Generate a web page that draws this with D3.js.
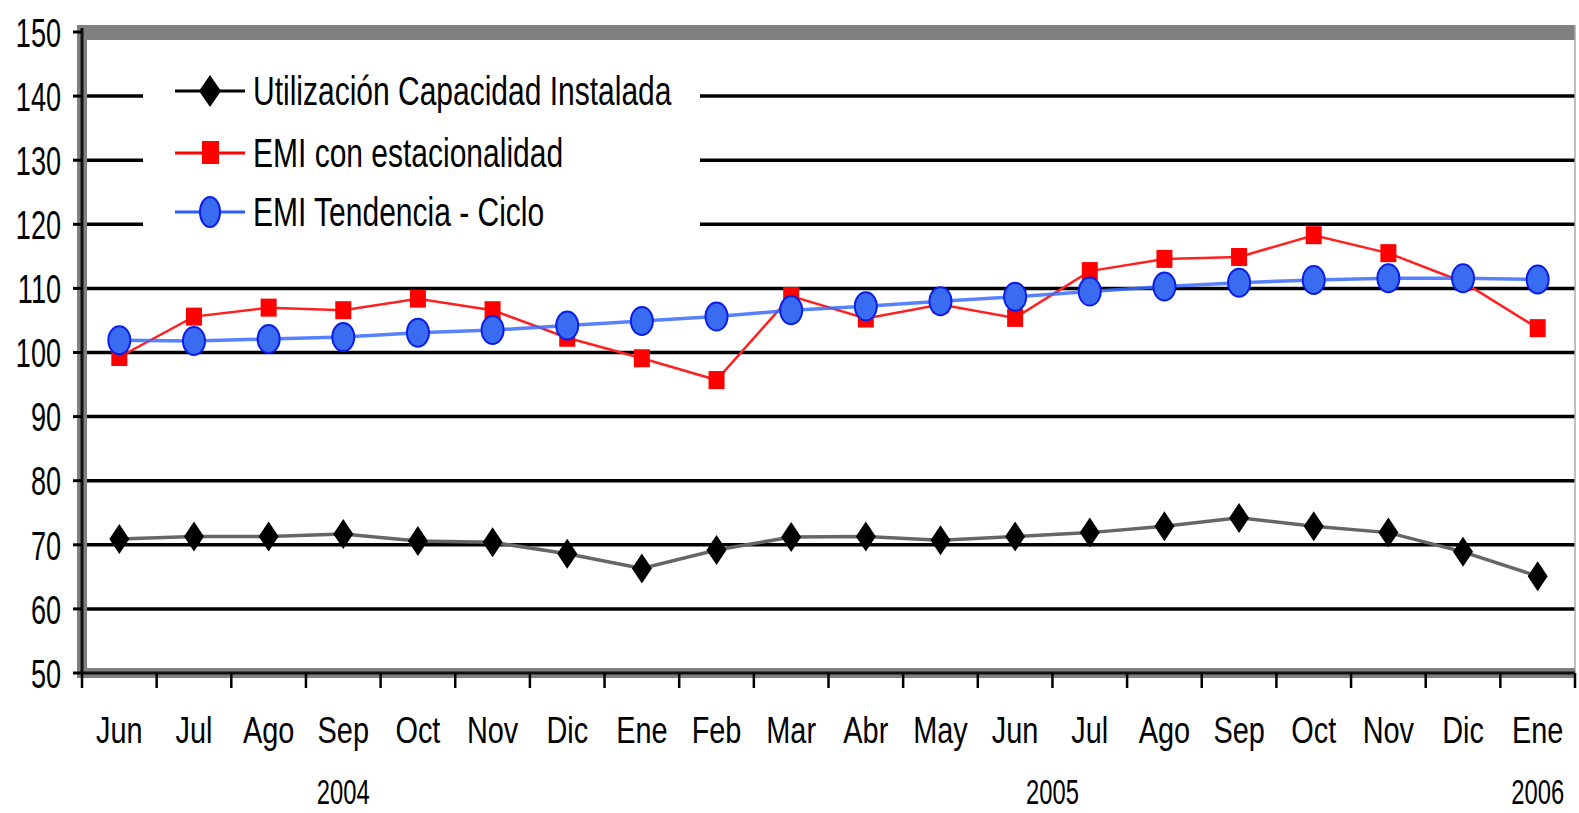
<!DOCTYPE html>
<html>
<head>
<meta charset="utf-8">
<script src="https://d3js.org/d3.v7.min.js"></script>
<style>
  body { margin: 0; background: #fff; }
  svg { display: block; }
</style>
</head>
<body>
<div class="chart"></div>
<script>
const months = ["Jun","Jul","Ago","Sep","Oct","Nov","Dic","Ene","Feb","Mar","Abr","May",
                "Jun","Jul","Ago","Sep","Oct","Nov","Dic","Ene"];
const yearLabels = ["2004", "2005", "2006"];
const yearFirst = [0, 7, 19];
const yearLast = [6, 18, 19];

const seriesNames = ["Utilización Capacidad Instalada", "EMI con estacionalidad", "EMI Tendencia - Ciclo"];
const utilizacion = [70.9, 71.3, 71.3, 71.7, 70.6, 70.4, 68.6, 66.3, 69.2, 71.2,
                     71.3, 70.7, 71.3, 71.9, 72.9, 74.2, 72.9, 71.9, 68.9, 65.1];
const emiEstacional = [99.3, 105.6, 107.0, 106.6, 108.4, 106.6, 102.3, 99.1, 95.7, 108.8,
                       105.3, 107.5, 105.4, 112.7, 114.6, 114.9, 118.3, 115.5, 111.0, 103.8];
const emiTendencia = [101.9, 101.8, 102.1, 102.4, 103.1, 103.5, 104.2, 104.9, 105.6, 106.6,
                      107.2, 108.0, 108.7, 109.5, 110.3, 110.9, 111.3, 111.6, 111.6, 111.4];
const yTickValues = [50, 60, 70, 80, 90, 100, 110, 120, 130, 140, 150];

const width = 1579, height = 813;
const plotLeft = 82, plotRight = 1575, plotTop = 32, plotBottom = 673;

const svg = d3.select(".chart").append("svg")
  .attr("width", width)
  .attr("height", height);

const x = d3.scaleBand()
  .domain(d3.range(months.length))
  .range([plotLeft, plotRight])
  .paddingInner(0).paddingOuter(0);

const y = d3.scaleLinear()
  .domain([50, 150])
  .range([plotBottom, plotTop]);

const cx = i => x(i) + x.bandwidth() / 2;
const font = "'Liberation Sans', Arial, sans-serif";

// gridlines
svg.selectAll("line.grid")
  .data(yTickValues.filter(v => v > 50 && v < 150))
  .enter()
  .append("line")
  .attr("class", "grid")
  .attr("x1", plotLeft).attr("x2", plotRight)
  .attr("y1", d => y(d)).attr("y2", d => y(d))
  .attr("stroke", "#000")
  .attr("stroke-width", 3.5);

// plot frame: grey top band, left and bottom axes
svg.append("rect")
  .attr("x", plotLeft).attr("y", y(150) - 7)
  .attr("width", plotRight - plotLeft).attr("height", 15)
  .attr("fill", "#808080");
svg.append("line")
  .attr("x1", plotRight).attr("x2", plotRight)
  .attr("y1", y(150) - 7).attr("y2", plotBottom + 5)
  .attr("stroke", "#aaa").attr("stroke-width", 1.5);
svg.append("rect")
  .attr("x", plotLeft - 5).attr("y", y(150) - 7)
  .attr("width", 10).attr("height", plotBottom - y(150) + 12)
  .attr("fill", "#808080");
svg.append("rect")
  .attr("x", plotLeft - 5).attr("y", plotBottom - 5)
  .attr("width", plotRight - plotLeft + 5).attr("height", 10)
  .attr("fill", "#808080");
svg.append("line")
  .attr("x1", plotLeft).attr("x2", plotLeft)
  .attr("y1", y(150) - 4).attr("y2", plotBottom)
  .attr("stroke", "#111").attr("stroke-width", 3);
svg.append("line")
  .attr("x1", plotLeft).attr("x2", plotRight)
  .attr("y1", plotBottom).attr("y2", plotBottom)
  .attr("stroke", "#111").attr("stroke-width", 3);

// y ticks and labels
svg.selectAll("line.ytick")
  .data(yTickValues)
  .enter()
  .append("line")
  .attr("class", "ytick")
  .attr("x1", plotLeft - 9).attr("x2", plotLeft)
  .attr("y1", d => y(d)).attr("y2", d => y(d))
  .attr("stroke", "#000").attr("stroke-width", 3);

svg.selectAll("text.ylab")
  .data(yTickValues)
  .enter()
  .append("text")
  .attr("class", "ylab")
  .attr("transform", d => `translate(61, ${y(d)}) scale(0.66, 1)`)
  .attr("text-anchor", "end")
  .attr("dy", "0.36em")
  .attr("font-family", font)
  .attr("font-size", "41px")
  .attr("fill", "#000")
  .text(d => d);

// x ticks at category boundaries
svg.selectAll("line.xtick")
  .data(d3.range(months.length + 1))
  .enter()
  .append("line")
  .attr("class", "xtick")
  .attr("x1", i => plotLeft + i * x.step()).attr("x2", i => plotLeft + i * x.step())
  .attr("y1", plotBottom).attr("y2", plotBottom + 15)
  .attr("stroke", "#000").attr("stroke-width", 2.5);

svg.selectAll("text.xlab")
  .data(months)
  .enter()
  .append("text")
  .attr("class", "xlab")
  .attr("transform", (d, i) => `translate(${cx(i)}, 743) scale(0.77, 1)`)
  .attr("text-anchor", "middle")
  .attr("font-family", font)
  .attr("font-size", "37.5px")
  .attr("fill", "#000")
  .text(d => d);

svg.selectAll("text.year")
  .data(yearLabels)
  .enter()
  .append("text")
  .attr("class", "year")
  .attr("transform", (d, i) => {
    const mid = (x(yearFirst[i]) + x(yearLast[i]) + x.bandwidth()) / 2;
    return `translate(${Math.min(mid, width - 28)}, 804) scale(0.68, 1)`;
  })
  .attr("text-anchor", "middle")
  .attr("font-family", font)
  .attr("font-size", "35px")
  .attr("fill", "#000")
  .text(d => d);

// legend background
svg.append("rect")
  .attr("x", 143).attr("y", 62)
  .attr("width", 557).attr("height", 178)
  .attr("fill", "#fff");

// series
const line = d3.line()
  .x((d, i) => cx(i))
  .y(d => y(d));

svg.append("path")
  .datum(utilizacion)
  .attr("d", line)
  .attr("fill", "none")
  .attr("stroke", "#666")
  .attr("stroke-width", 3.5);

svg.selectAll("path.diamond")
  .data(utilizacion)
  .enter()
  .append("path")
  .attr("class", "diamond")
  .attr("d", (d, i) => `M${cx(i)},${y(d) - 15}L${cx(i) + 10},${y(d)}L${cx(i)},${y(d) + 15}L${cx(i) - 10},${y(d)}Z`)
  .attr("fill", "#000");

svg.append("path")
  .datum(emiEstacional)
  .attr("d", line)
  .attr("fill", "none")
  .attr("stroke", "#ff2020")
  .attr("stroke-width", 2.5);

svg.selectAll("rect.square")
  .data(emiEstacional)
  .enter()
  .append("rect")
  .attr("class", "square")
  .attr("x", (d, i) => cx(i) - 8)
  .attr("y", d => y(d) - 9)
  .attr("width", 16).attr("height", 18)
  .attr("fill", "#ff0000");

svg.append("path")
  .datum(emiTendencia)
  .attr("d", line)
  .attr("fill", "none")
  .attr("stroke", "#3a6cff")
  .attr("stroke-width", 3.5)
  .attr("stroke-opacity", 0.85);

svg.selectAll("ellipse.dot")
  .data(emiTendencia)
  .enter()
  .append("ellipse")
  .attr("class", "dot")
  .attr("cx", (d, i) => cx(i))
  .attr("cy", d => y(d))
  .attr("rx", 11).attr("ry", 14)
  .attr("fill", "#3a6cf2")
  .attr("stroke", "#0a1ee8")
  .attr("stroke-width", 2);

// legend
const legendRows = [91, 153, 212];
const legendColors = ["#000", "#ff0000", "#2a5cff"];
const leg = svg.selectAll("g.leg")
  .data(seriesNames)
  .enter()
  .append("g")
  .attr("class", "leg")
  .attr("transform", (d, i) => `translate(0, ${legendRows[i]})`);

leg.append("line")
  .attr("x1", 175).attr("x2", 245)
  .attr("y1", 0).attr("y2", 0)
  .attr("stroke", (d, i) => legendColors[i])
  .attr("stroke-width", 3);

leg.filter((d, i) => i === 0).append("path")
  .attr("d", "M210,-16L221,0L210,16L199,0Z")
  .attr("fill", "#000");
leg.filter((d, i) => i === 1).append("rect")
  .attr("x", 202).attr("y", -12).attr("width", 17).attr("height", 23)
  .attr("fill", "#ff0000");
leg.filter((d, i) => i === 2).append("ellipse")
  .attr("cx", 210).attr("cy", 0).attr("rx", 10).attr("ry", 15)
  .attr("fill", "#3a6cf2").attr("stroke", "#0a1ee8").attr("stroke-width", 2);

leg.append("text")
  .attr("transform", "translate(253, 0) scale(0.75, 1)")
  .attr("dy", "0.36em")
  .attr("font-family", font)
  .attr("font-size", "40px")
  .attr("fill", "#000")
  .text(d => d);
</script>
</body>
</html>
